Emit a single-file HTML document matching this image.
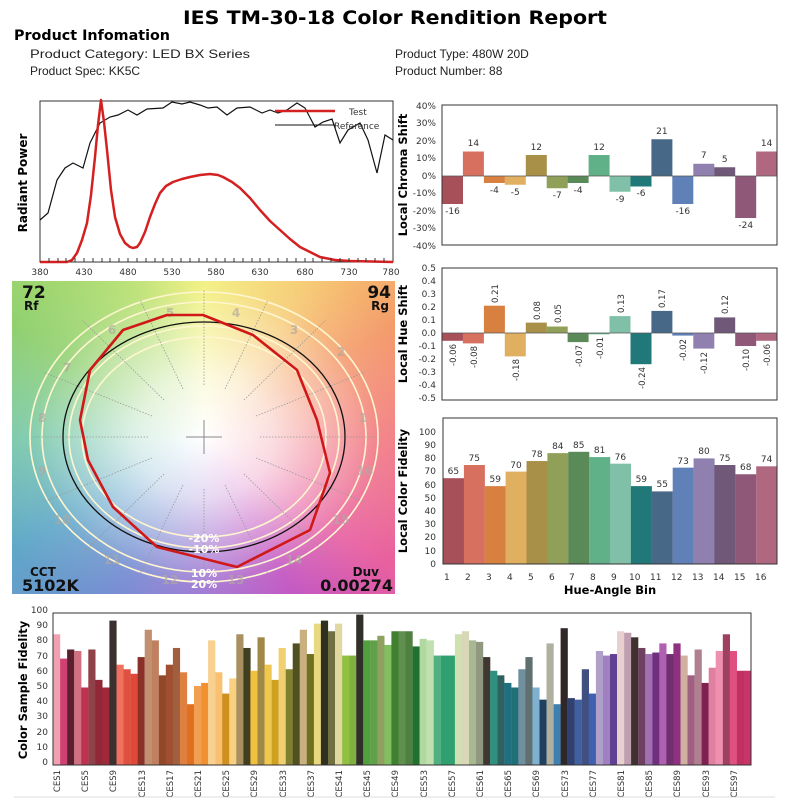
<!DOCTYPE html>
<html><head><meta charset="utf-8"><style>
body{margin:0;background:#fff;}
svg{display:block;font-family:"DejaVu Sans","Liberation Sans",sans-serif;}
.pi{font-family:"Liberation Sans",sans-serif;}
</style></head><body>
<svg width="800" height="800" viewBox="0 0 800 800" xmlns="http://www.w3.org/2000/svg">
<defs>
<radialGradient id="wh" cx="204" cy="437" r="200" gradientUnits="userSpaceOnUse" gradientTransform="translate(204 437) scale(1.15 1) translate(-204 -437)">
<stop offset="0" stop-color="#fff" stop-opacity="1"/>
<stop offset="0.3" stop-color="#fff" stop-opacity="0.75"/>
<stop offset="0.75" stop-color="#fff" stop-opacity="0.1"/>
<stop offset="1" stop-color="#fff" stop-opacity="0"/>
</radialGradient>
<clipPath id="cw"><rect x="12" y="281" width="383" height="313"/></clipPath>
</defs>
<rect width="800" height="800" fill="#fff"/>

<!-- Header -->
<text x="395" y="24" text-anchor="middle" font-size="19" font-weight="bold" textLength="424" lengthAdjust="spacingAndGlyphs">IES TM-30-18 Color Rendition Report</text>
<text x="14" y="40" font-size="14" font-weight="bold" textLength="156" lengthAdjust="spacingAndGlyphs">Product Infomation</text>
<g class="pi" font-size="12" fill="#222">
<text x="30" y="58" textLength="220" lengthAdjust="spacingAndGlyphs">Product Category: LED BX Series</text>
<text x="30" y="75">Product Spec: KK5C</text>
<text x="395" y="58">Product Type: 480W  20D</text>
<text x="395" y="75">Product Number: 88</text>
</g>

<!-- Spectrum -->
<rect x="40" y="101" width="353" height="161" fill="none" stroke="#333" stroke-width="1"/>
<polyline fill="none" stroke="#111" stroke-width="1.2" points="40,220 48,213 57,180 65,168 73,163 83,168 90,143 100,123 110,117 118,115 128,110 137,115 147,109 163,108 172,102 182,104 190,102 200,105 208,108 217,107 227,115 237,108 250,107 262,113 270,110 278,113 287,110 297,103 305,108 315,127 323,122 332,119 340,143 348,130 360,123 368,140 377,173 385,135 393,140"/>
<polyline fill="none" stroke="#d42020" stroke-width="2.5" stroke-linejoin="round" points="40,262 67,262 72,260 77,253 82,240 87,223 91,195 95,157 98,125 101,100 104,122 107,150 111,190 115,217 120,234 125,243 130,247 133,248 137,247 140,243 145,232 150,217 155,204 160,193 166,186 173,182 182,179 190,177 200,175 210,174 218,175 223,177 232,182 240,188 250,198 260,210 270,221 280,230 290,239 300,247 310,252 320,257 335,260 350,261 393,262"/>
<line x1="275" y1="111" x2="335" y2="111" stroke="#d42020" stroke-width="2.5"/>
<text x="349" y="115" font-size="9" fill="#333">Test</text>
<line x1="275" y1="125" x2="335" y2="125" stroke="#111" stroke-width="1"/>
<text x="334" y="129" font-size="9" fill="#333">Reference</text>
<g font-size="9" fill="#333" text-anchor="middle">
<text x="40" y="275">380</text><text x="84" y="275">430</text><text x="128" y="275">480</text><text x="172" y="275">530</text><text x="216" y="275">580</text><text x="260" y="275">630</text><text x="305" y="275">680</text><text x="349" y="275">730</text><text x="391" y="275">780</text>
</g>
<g stroke="#333" stroke-width="1">
<path d="M40,258v4M49,258v4M58,258v4M66,258v4M75,258v4M84,258v4M93,258v4M102,258v4M110,258v4M119,258v4M128,258v4M137,258v4M146,258v4M155,258v4M163,258v4M172,258v4M181,258v4M190,258v4M199,258v4M207,258v4M216,258v4M225,258v4M234,258v4M243,258v4M252,258v4M260,258v4M269,258v4M278,258v4M287,258v4M296,258v4M305,258v4M313,258v4M322,258v4M331,258v4M340,258v4M349,258v4M358,258v4M366,258v4M375,258v4M384,258v4"/>
</g>
<text transform="translate(27,183) rotate(-90)" text-anchor="middle" font-size="12" font-weight="bold">Radiant Power</text>

<!-- Color wheel -->
<g clip-path="url(#cw)">
<foreignObject x="12" y="281" width="383" height="313">
<div xmlns="http://www.w3.org/1999/xhtml" style="width:383px;height:313px;background:conic-gradient(from 0deg at 192px 156px,#f2f07a 0deg,#f6c870 35deg,#f49a6a 60deg,#f27a80 90deg,#e860a0 125deg,#c050c0 150deg,#9a70d0 180deg,#7088d0 210deg,#60a8c8 240deg,#78c8a8 270deg,#90d070 300deg,#b8e070 335deg,#f2f07a 360deg);"></div>
</foreignObject>
<rect x="12" y="281" width="383" height="313" fill="url(#wh)"/>
</g>
<g fill="none" stroke="#fff6d0" stroke-width="1.6">
<ellipse cx="204" cy="437" rx="122" ry="100"/>
<ellipse cx="204" cy="437" rx="135" ry="111"/>
<ellipse cx="204" cy="437" rx="162" ry="135"/>
<ellipse cx="204" cy="437" rx="174" ry="145"/>
</g>
<g stroke="#999" stroke-width="0.8" stroke-dasharray="1.5,1.5">
<line x1="204" y1="385" x2="204" y2="290"/>
<line x1="204" y1="489" x2="204" y2="584"/>
<line x1="260" y1="437" x2="375" y2="437"/>
<line x1="148" y1="437" x2="33" y2="437"/>
<line x1="256" y1="416" x2="365" y2="372"/>
<line x1="244" y1="400" x2="326" y2="320"/>
<line x1="225" y1="389" x2="268" y2="300"/>
<line x1="183" y1="389" x2="140" y2="300"/>
<line x1="164" y1="400" x2="82" y2="320"/>
<line x1="152" y1="416" x2="43" y2="372"/>
<line x1="152" y1="458" x2="43" y2="502"/>
<line x1="164" y1="474" x2="82" y2="554"/>
<line x1="183" y1="485" x2="140" y2="574"/>
<line x1="225" y1="485" x2="268" y2="574"/>
<line x1="244" y1="474" x2="326" y2="554"/>
<line x1="256" y1="458" x2="365" y2="502"/>
</g>
<g stroke="#888" stroke-width="1"><line x1="186" y1="437" x2="222" y2="437"/><line x1="204" y1="420" x2="204" y2="454"/></g>
<g font-size="12" font-weight="bold" fill="#b0a8a0" text-anchor="middle" opacity="0.7">
<text x="363" y="422">1</text><text x="341" y="356">2</text><text x="294" y="334">3</text><text x="236" y="317">4</text><text x="170" y="317">5</text><text x="112" y="334">6</text><text x="67" y="372">7</text><text x="42" y="422">8</text><text x="42" y="475">9</text><text x="62" y="524">10</text><text x="112" y="564">11</text><text x="170" y="584">12</text><text x="236" y="584">13</text><text x="294" y="564">14</text><text x="341" y="524">15</text><text x="365" y="475">16</text>
</g>
<ellipse cx="204" cy="437" rx="141" ry="115" fill="none" stroke="#111" stroke-width="1.3"/>
<polygon fill="none" stroke="#d01818" stroke-width="2.6" stroke-linejoin="round" points="167,315 203,315 253,335 297,370 317,420 330,473 310,530 237,567 157,547 113,507 88,460 80,420 90,370 123,330"/>
<g font-size="11" font-weight="bold" fill="#fff" text-anchor="middle">
<text x="204" y="542">-20%</text><text x="204" y="553">-10%</text><text x="204" y="577">10%</text><text x="204" y="588">20%</text>
</g>
<g font-weight="bold" fill="#111">
<text x="22" y="298" font-size="17">72</text><text x="24" y="310" font-size="12">Rf</text>
<text x="391" y="298" font-size="17" text-anchor="end">94</text><text x="389" y="310" font-size="12" text-anchor="end">Rg</text>
<text x="30" y="576" font-size="12">CCT</text><text x="22" y="591" font-size="16">5102K</text>
<text x="379" y="576" font-size="12" text-anchor="end">Duv</text><text x="393" y="591" font-size="16" text-anchor="end">0.00274</text>
</g>

<!-- Chroma shift -->
<g transform="translate(0,176) scale(1,-1.75)">
<rect x="442" y="-16" width="21" height="16" fill="#a8505a"/>
<rect x="462.9" y="0" width="21" height="14" fill="#d87060"/>
<rect x="483.9" y="-4" width="21" height="4" fill="#d88040"/>
<rect x="504.8" y="-5" width="21" height="5" fill="#e0b060"/>
<rect x="525.8" y="0" width="21" height="12" fill="#a89048"/>
<rect x="546.7" y="-7" width="21" height="7" fill="#90a058"/>
<rect x="567.6" y="-4" width="21" height="4" fill="#5a8a58"/>
<rect x="588.6" y="0" width="21" height="12" fill="#60b088"/>
<rect x="609.5" y="-9" width="21" height="9" fill="#80c0a8"/>
<rect x="630.5" y="-6" width="21" height="6" fill="#207878"/>
<rect x="651.4" y="0" width="21" height="21" fill="#486888"/>
<rect x="672.3" y="-16" width="21" height="16" fill="#6080b8"/>
<rect x="693.3" y="0" width="21" height="7" fill="#9080b0"/>
<rect x="714.2" y="0" width="21" height="5" fill="#705878"/>
<rect x="735.2" y="-24" width="21" height="24" fill="#905878"/>
<rect x="756.1" y="0" width="21" height="14" fill="#b06880"/>
</g>
<line x1="442" y1="176" x2="777" y2="176" stroke="#555" stroke-width="0.8"/>
<rect x="442" y="105" width="335" height="140" fill="none" stroke="#333"/>
<g font-size="9" fill="#333" text-anchor="middle">
<text x="452.5" y="214">-16</text><text x="473.4" y="146">14</text><text x="494.4" y="193">-4</text><text x="515.3" y="195">-5</text><text x="536.3" y="150">12</text><text x="557.2" y="198">-7</text><text x="578.1" y="193">-4</text><text x="599.1" y="150">12</text><text x="620" y="202">-9</text><text x="641" y="196">-6</text><text x="661.9" y="134">21</text><text x="682.8" y="214">-16</text><text x="703.8" y="158">7</text><text x="724.7" y="162">5</text><text x="745.7" y="228">-24</text><text x="766.6" y="146">14</text>
</g>
<g font-size="9" fill="#333" text-anchor="end">
<text x="436" y="109">40%</text><text x="436" y="126">30%</text><text x="436" y="144">20%</text><text x="436" y="161">10%</text><text x="436" y="179">0%</text><text x="436" y="196">-10%</text><text x="436" y="214">-20%</text><text x="436" y="231">-30%</text><text x="436" y="249">-40%</text>
</g>
<text transform="translate(407,175) rotate(-90)" text-anchor="middle" font-size="11.5" font-weight="bold">Local Chroma Shift</text>

<!-- Hue shift -->
<g transform="translate(0,333) scale(1,-130)">
<rect x="442" y="-0.06" width="21" height="0.06" fill="#a8505a"/>
<rect x="462.9" y="-0.08" width="21" height="0.08" fill="#d87060"/>
<rect x="483.9" y="0" width="21" height="0.21" fill="#d88040"/>
<rect x="504.8" y="-0.18" width="21" height="0.18" fill="#e0b060"/>
<rect x="525.8" y="0" width="21" height="0.08" fill="#a89048"/>
<rect x="546.7" y="0" width="21" height="0.05" fill="#90a058"/>
<rect x="567.6" y="-0.07" width="21" height="0.07" fill="#5a8a58"/>
<rect x="588.6" y="-0.01" width="21" height="0.01" fill="#60b088"/>
<rect x="609.5" y="0" width="21" height="0.13" fill="#80c0a8"/>
<rect x="630.5" y="-0.24" width="21" height="0.24" fill="#207878"/>
<rect x="651.4" y="0" width="21" height="0.17" fill="#486888"/>
<rect x="672.3" y="-0.02" width="21" height="0.02" fill="#6080b8"/>
<rect x="693.3" y="-0.12" width="21" height="0.12" fill="#9080b0"/>
<rect x="714.2" y="0" width="21" height="0.12" fill="#705878"/>
<rect x="735.2" y="-0.10" width="21" height="0.10" fill="#905878"/>
<rect x="756.1" y="-0.06" width="21" height="0.06" fill="#b06880"/>
</g>
<line x1="442" y1="333" x2="777" y2="333" stroke="#555" stroke-width="0.8"/>
<rect x="442" y="268" width="335" height="132" fill="none" stroke="#333"/>
<g font-size="8.5" fill="#333">
<text transform="translate(456,344) rotate(-90)" text-anchor="end">-0.06</text>
<text transform="translate(477,346) rotate(-90)" text-anchor="end">-0.08</text>
<text transform="translate(498,303) rotate(-90)">0.21</text>
<text transform="translate(519,359) rotate(-90)" text-anchor="end">-0.18</text>
<text transform="translate(540,320) rotate(-90)">0.08</text>
<text transform="translate(561,323) rotate(-90)">0.05</text>
<text transform="translate(582,345) rotate(-90)" text-anchor="end">-0.07</text>
<text transform="translate(603,337) rotate(-90)" text-anchor="end">-0.01</text>
<text transform="translate(624,313) rotate(-90)">0.13</text>
<text transform="translate(645,367) rotate(-90)" text-anchor="end">-0.24</text>
<text transform="translate(665,308) rotate(-90)">0.17</text>
<text transform="translate(686,339) rotate(-90)" text-anchor="end">-0.02</text>
<text transform="translate(707,352) rotate(-90)" text-anchor="end">-0.12</text>
<text transform="translate(728,314) rotate(-90)">0.12</text>
<text transform="translate(749,349) rotate(-90)" text-anchor="end">-0.10</text>
<text transform="translate(770,344) rotate(-90)" text-anchor="end">-0.06</text>
</g>
<g font-size="9" fill="#333" text-anchor="end">
<text x="436" y="271">0.5</text><text x="436" y="284">0.4</text><text x="436" y="297">0.3</text><text x="436" y="310">0.2</text><text x="436" y="323">0.1</text><text x="436" y="336">0.0</text><text x="436" y="349">-0.1</text><text x="436" y="362">-0.2</text><text x="436" y="375">-0.3</text><text x="436" y="388">-0.4</text><text x="436" y="401">-0.5</text>
</g>
<text transform="translate(407,334) rotate(-90)" text-anchor="middle" font-size="11.5" font-weight="bold">Local Hue Shift</text>

<!-- Local color fidelity -->
<g transform="translate(0,564) scale(1,-1.32)">
<rect x="443" y="0" width="21" height="65" fill="#a8505a"/>
<rect x="463.9" y="0" width="21" height="75" fill="#d87060"/>
<rect x="484.8" y="0" width="21" height="59" fill="#d88040"/>
<rect x="505.6" y="0" width="21" height="70" fill="#e0b060"/>
<rect x="526.5" y="0" width="21" height="78" fill="#a89048"/>
<rect x="547.4" y="0" width="21" height="84" fill="#90a058"/>
<rect x="568.3" y="0" width="21" height="85" fill="#5a8a58"/>
<rect x="589.2" y="0" width="21" height="81" fill="#60b088"/>
<rect x="610" y="0" width="21" height="76" fill="#80c0a8"/>
<rect x="630.9" y="0" width="21" height="59" fill="#207878"/>
<rect x="651.8" y="0" width="21" height="55" fill="#486888"/>
<rect x="672.7" y="0" width="21" height="73" fill="#6080b8"/>
<rect x="693.6" y="0" width="21" height="80" fill="#9080b0"/>
<rect x="714.4" y="0" width="21" height="75" fill="#705878"/>
<rect x="735.3" y="0" width="21" height="68" fill="#905878"/>
<rect x="756.2" y="0" width="21" height="74" fill="#b06880"/>
</g>
<rect x="443" y="418" width="334" height="146" fill="none" stroke="#333"/>
<g font-size="9" fill="#333" text-anchor="middle">
<text x="453.4" y="474">65</text><text x="474.3" y="461">75</text><text x="495.2" y="482">59</text><text x="516" y="468">70</text><text x="536.9" y="457">78</text><text x="557.8" y="449">84</text><text x="578.7" y="448">85</text><text x="599.6" y="453">81</text><text x="620.4" y="460">76</text><text x="641.3" y="482">59</text><text x="662.2" y="487">55</text><text x="683.1" y="464">73</text><text x="704" y="454">80</text><text x="724.8" y="461">75</text><text x="745.7" y="470">68</text><text x="766.6" y="462">74</text>
</g>
<g font-size="9" fill="#333" text-anchor="end">
<text x="436" y="435">100</text><text x="436" y="448">90</text><text x="436" y="461">80</text><text x="436" y="474">70</text><text x="436" y="488">60</text><text x="436" y="501">50</text><text x="436" y="514">40</text><text x="436" y="527">30</text><text x="436" y="540">20</text><text x="436" y="554">10</text><text x="436" y="567">0</text>
</g>
<g font-size="9" fill="#333">
<text x="444" y="580">1</text><text x="465" y="580">2</text><text x="486" y="580">3</text><text x="507" y="580">4</text><text x="528" y="580">5</text><text x="549" y="580">6</text><text x="569" y="580">7</text><text x="590" y="580">8</text><text x="611" y="580">9</text><text x="629" y="580">10</text><text x="650" y="580">11</text><text x="671" y="580">12</text><text x="692" y="580">13</text><text x="713" y="580">14</text><text x="734" y="580">15</text><text x="755" y="580">16</text>
</g>
<text x="610" y="594" text-anchor="middle" font-size="11.5" font-weight="bold">Hue-Angle Bin</text>
<text transform="translate(407,491) rotate(-90)" text-anchor="middle" font-size="11.5" font-weight="bold">Local Color Fidelity</text>

<!-- Color Sample Fidelity -->
<g transform="translate(0,765) scale(1,-1.52)">
<rect x="53.0" width="7.2" height="86" fill="#f0a0b0"/>
<rect x="60.1" width="7.2" height="70" fill="#d04070"/>
<rect x="67.1" width="7.2" height="76" fill="#5a2030"/>
<rect x="74.2" width="7.2" height="75" fill="#d07080"/>
<rect x="81.2" width="7.2" height="51" fill="#c03050"/>
<rect x="88.3" width="7.2" height="76" fill="#904048"/>
<rect x="95.3" width="7.2" height="56" fill="#902838"/>
<rect x="102.4" width="7.2" height="51" fill="#a02838"/>
<rect x="109.4" width="7.2" height="95" fill="#3a3030"/>
<rect x="116.5" width="7.2" height="66" fill="#f07060"/>
<rect x="123.5" width="7.2" height="63" fill="#e05040"/>
<rect x="130.6" width="7.2" height="60" fill="#e04838"/>
<rect x="137.6" width="7.2" height="71" fill="#8a3028"/>
<rect x="144.7" width="7.2" height="89" fill="#c09070"/>
<rect x="151.7" width="7.2" height="82" fill="#c08060"/>
<rect x="158.8" width="7.2" height="59" fill="#904828"/>
<rect x="165.8" width="7.2" height="66" fill="#a05030"/>
<rect x="172.9" width="7.2" height="77" fill="#a06040"/>
<rect x="179.9" width="7.2" height="61" fill="#e08040"/>
<rect x="187.0" width="7.2" height="40" fill="#e07020"/>
<rect x="194.0" width="7.2" height="52" fill="#f0a050"/>
<rect x="201.1" width="7.2" height="54" fill="#f09030"/>
<rect x="208.1" width="7.2" height="82" fill="#f8d090"/>
<rect x="215.2" width="7.2" height="61" fill="#f8c070"/>
<rect x="222.2" width="7.2" height="47" fill="#d09020"/>
<rect x="229.3" width="7.2" height="57" fill="#f8d080"/>
<rect x="236.3" width="7.2" height="86" fill="#a89060"/>
<rect x="243.4" width="7.2" height="77" fill="#404020"/>
<rect x="250.4" width="7.2" height="62" fill="#f0c040"/>
<rect x="257.5" width="7.2" height="84" fill="#a08848"/>
<rect x="264.5" width="7.2" height="66" fill="#f0c850"/>
<rect x="271.6" width="7.2" height="56" fill="#d0a020"/>
<rect x="278.6" width="7.2" height="77" fill="#f0d070"/>
<rect x="285.7" width="7.2" height="63" fill="#808030"/>
<rect x="292.7" width="7.2" height="80" fill="#505020"/>
<rect x="299.8" width="7.2" height="89" fill="#c8b080"/>
<rect x="306.8" width="7.2" height="73" fill="#707020"/>
<rect x="313.9" width="7.2" height="93" fill="#e8d880"/>
<rect x="320.9" width="7.2" height="95" fill="#303020"/>
<rect x="328.0" width="7.2" height="88" fill="#707040"/>
<rect x="335.0" width="7.2" height="93" fill="#e0d8a0"/>
<rect x="342.1" width="7.2" height="72" fill="#90c040"/>
<rect x="349.1" width="7.2" height="72" fill="#80b040"/>
<rect x="356.2" width="7.2" height="99" fill="#303028"/>
<rect x="363.2" width="7.2" height="82" fill="#50a040"/>
<rect x="370.3" width="7.2" height="82" fill="#60a048"/>
<rect x="377.3" width="7.2" height="85" fill="#90a060"/>
<rect x="384.4" width="7.2" height="79" fill="#80c060"/>
<rect x="391.4" width="7.2" height="88" fill="#408030"/>
<rect x="398.5" width="7.2" height="88" fill="#609050"/>
<rect x="405.5" width="7.2" height="88" fill="#508040"/>
<rect x="412.6" width="7.2" height="78" fill="#207030"/>
<rect x="419.6" width="7.2" height="83" fill="#b0d8a0"/>
<rect x="426.7" width="7.2" height="82" fill="#c0e0b0"/>
<rect x="433.7" width="7.2" height="72" fill="#50b080"/>
<rect x="440.8" width="7.2" height="72" fill="#30a070"/>
<rect x="447.8" width="7.2" height="72" fill="#30a070"/>
<rect x="454.9" width="7.2" height="86" fill="#d0e0b0"/>
<rect x="461.9" width="7.2" height="88" fill="#d8d8b8"/>
<rect x="469.0" width="7.2" height="82" fill="#a8b890"/>
<rect x="476.0" width="7.2" height="81" fill="#909880"/>
<rect x="483.1" width="7.2" height="71" fill="#403830"/>
<rect x="490.1" width="7.2" height="62" fill="#309080"/>
<rect x="497.2" width="7.2" height="59" fill="#306060"/>
<rect x="504.2" width="7.2" height="54" fill="#207080"/>
<rect x="511.3" width="7.2" height="51" fill="#207078"/>
<rect x="518.3" width="7.2" height="63" fill="#7090a0"/>
<rect x="525.4" width="7.2" height="71" fill="#607070"/>
<rect x="532.4" width="7.2" height="51" fill="#80b0d0"/>
<rect x="539.5" width="7.2" height="43" fill="#204060"/>
<rect x="546.5" width="7.2" height="80" fill="#b0b0a0"/>
<rect x="553.6" width="7.2" height="40" fill="#4080b0"/>
<rect x="560.6" width="7.2" height="90" fill="#302828"/>
<rect x="567.7" width="7.2" height="44" fill="#304070"/>
<rect x="574.7" width="7.2" height="43" fill="#4060a0"/>
<rect x="581.8" width="7.2" height="63" fill="#405080"/>
<rect x="588.8" width="7.2" height="47" fill="#4060b0"/>
<rect x="595.9" width="7.2" height="75" fill="#b0a0c8"/>
<rect x="602.9" width="7.2" height="72" fill="#a080c0"/>
<rect x="610.0" width="7.2" height="73" fill="#604090"/>
<rect x="617.0" width="7.2" height="88" fill="#e8d0d0"/>
<rect x="624.1" width="7.2" height="87" fill="#c0a0b0"/>
<rect x="631.1" width="7.2" height="84" fill="#403030"/>
<rect x="638.2" width="7.2" height="77" fill="#704060"/>
<rect x="645.2" width="7.2" height="73" fill="#a070b0"/>
<rect x="652.3" width="7.2" height="74" fill="#703080"/>
<rect x="659.3" width="7.2" height="80" fill="#b060b0"/>
<rect x="666.4" width="7.2" height="73" fill="#703070"/>
<rect x="673.4" width="7.2" height="80" fill="#903080"/>
<rect x="680.5" width="7.2" height="72" fill="#d0b0a0"/>
<rect x="687.5" width="7.2" height="59" fill="#a06080"/>
<rect x="694.6" width="7.2" height="76" fill="#b08090"/>
<rect x="701.6" width="7.2" height="54" fill="#802050"/>
<rect x="708.7" width="7.2" height="64" fill="#e080a0"/>
<rect x="715.7" width="7.2" height="75" fill="#f090b0"/>
<rect x="722.8" width="7.2" height="86" fill="#a04060"/>
<rect x="729.8" width="7.2" height="75" fill="#e05080"/>
<rect x="736.9" width="7.2" height="62" fill="#c03060"/>
<rect x="743.9" width="7.1" height="62" fill="#c83468"/>
</g>
<rect x="53" y="613" width="698" height="152" fill="none" stroke="#333"/>
<g font-size="9" fill="#333" text-anchor="end">
<text x="48" y="613">100</text><text x="48" y="628">90</text><text x="48" y="643">80</text><text x="48" y="659">70</text><text x="48" y="674">60</text><text x="48" y="689">50</text><text x="48" y="704">40</text><text x="48" y="719">30</text><text x="48" y="735">20</text><text x="48" y="750">10</text><text x="48" y="765">0</text>
</g>
<text transform="translate(27,690) rotate(-90)" text-anchor="middle" font-size="11.5" font-weight="bold">Color Sample Fidelity</text>
<g font-size="8.5" fill="#333" text-anchor="end">
<text transform="translate(60,770) rotate(-90)">CES1</text>
<text transform="translate(88,770) rotate(-90)">CES5</text>
<text transform="translate(116,770) rotate(-90)">CES9</text>
<text transform="translate(145,770) rotate(-90)">CES13</text>
<text transform="translate(173,770) rotate(-90)">CES17</text>
<text transform="translate(201,770) rotate(-90)">CES21</text>
<text transform="translate(229,770) rotate(-90)">CES25</text>
<text transform="translate(257,770) rotate(-90)">CES29</text>
<text transform="translate(286,770) rotate(-90)">CES33</text>
<text transform="translate(314,770) rotate(-90)">CES37</text>
<text transform="translate(342,770) rotate(-90)">CES41</text>
<text transform="translate(370,770) rotate(-90)">CES45</text>
<text transform="translate(398,770) rotate(-90)">CES49</text>
<text transform="translate(427,770) rotate(-90)">CES53</text>
<text transform="translate(455,770) rotate(-90)">CES57</text>
<text transform="translate(483,770) rotate(-90)">CES61</text>
<text transform="translate(511,770) rotate(-90)">CES65</text>
<text transform="translate(539,770) rotate(-90)">CES69</text>
<text transform="translate(568,770) rotate(-90)">CES73</text>
<text transform="translate(596,770) rotate(-90)">CES77</text>
<text transform="translate(624,770) rotate(-90)">CES81</text>
<text transform="translate(652,770) rotate(-90)">CES85</text>
<text transform="translate(680,770) rotate(-90)">CES89</text>
<text transform="translate(709,770) rotate(-90)">CES93</text>
<text transform="translate(737,770) rotate(-90)">CES97</text>
</g>
<line x1="14" y1="797" x2="775" y2="797" stroke="#ddd" stroke-width="1"/>
</svg>
</body></html>
